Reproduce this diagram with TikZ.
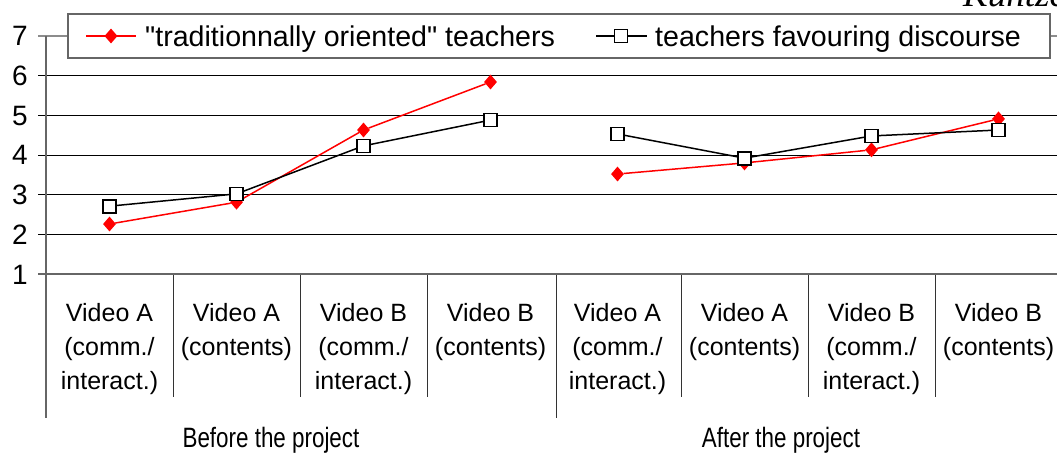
\documentclass[tikz,border=0pt]{standalone}
\usepackage{fontspec}
\setmainfont{Liberation Sans}[Ligatures=TeXOff]
\newfontfamily\narrowfont{Liberation Sans}[FakeStretch=0.8]
\newfontfamily\headfont{Liberation Serif}
\usetikzlibrary{shapes.geometric}

\begin{document}
\begin{tikzpicture}[x=1pt,y=-1pt,
   grid/.style={black,line width=0.9pt},
   axisline/.style={black!60,line width=2pt},
   redmark/.style={diamond,fill=red,inner sep=0pt,minimum width=13pt,minimum height=15pt},
   blackmark/.style={rectangle,draw=black,fill=white,line width=1.7pt,inner sep=0pt,minimum size=13pt},
   redline/.style={red,line width=1.5pt},
   blackline/.style={black,line width=1.5pt},
   catlabel/.style={anchor=north,inner sep=0pt,align=center,font=\fontsize{25}{34}\selectfont},
   ticklabel/.style={anchor=base east,inner sep=0pt,font=\fontsize{28}{34}\selectfont}]
   \useasboundingbox (0,0) rectangle (1057,453);
   % header, cut by the page edge
   \begin{scope}
      \clip (0,0) rectangle (1057,453);
      \node [anchor=base west,inner sep=0pt,font=\headfont\itshape\fontsize{37}{42}\selectfont] (head) at (963,6) {Kuntze};
   \end{scope}
   % grid and axes
   \foreach \v in {2,...,6}
      \draw [grid] (38,{274-39.67*(\v-1)}) -- (1057,{274-39.67*(\v-1)});
   \draw [black!45,line width=1.2pt] (38,36) -- (1057,36);
   \foreach \v in {1,...,7}
      \node [ticklabel] (t_\v) at (28,{284-39.67*(\v-1)}) {\v};
   \foreach \i in {1,2,3,5,6,7}
      \draw [black!80,line width=1pt] ({46+127*\i},274) -- ({46+127*\i},397);
   \draw [black!80,line width=1pt] (556,274) -- (556,418);
   \draw [axisline] (38,274) -- (1057,274);
   \draw [axisline] (46,36) -- (46,418);
   % category labels
   \foreach \lab [count=\i] in {{Video A\\(comm./\\interact.)},{Video A\\(contents)},{Video B\\(comm./\\interact.)},{Video B\\(contents)},
                                {Video A\\(comm./\\interact.)},{Video A\\(contents)},{Video B\\(comm./\\interact.)},{Video B\\(contents)}}
      \node [catlabel] (c_\i) at ({46+127*(\i-0.5)},303) {\lab};
   \node [anchor=base,inner sep=0pt,font=\narrowfont\fontsize{28}{34}\selectfont] (before) at (271,447) {Before the project};
   \node [anchor=base,inner sep=0pt,font=\narrowfont\fontsize{28}{34}\selectfont] (after) at (781,447) {After the project};
   % data
   \foreach \v [count=\i] in {2.26,2.81,4.63,5.84,3.52,3.80,4.13,4.91}
      \node [redmark] (r_\i) at ({46+127*(\i-0.5)},{274-39.67*(\v-1)}) {};
   \draw [redline] (r_1) -- (r_2) -- (r_3) -- (r_4);
   \draw [redline] (r_5) -- (r_6) -- (r_7) -- (r_8);
   \foreach \v [count=\i] in {2.71,3.02,4.23,4.88,4.53,3.92,4.48,4.63}
      \coordinate (p_\i) at ({46+127*(\i-0.5)},{274-39.67*(\v-1)});
   \draw [blackline] (p_1) -- (p_2) -- (p_3) -- (p_4);
   \draw [blackline] (p_5) -- (p_6) -- (p_7) -- (p_8);
   \foreach \i in {1,...,8}
      \node [blackmark] (b_\i) at (p_\i) {};
   % legend
   \draw [black!60,line width=1.3pt,fill=white] (68,14) rectangle (1050,58);
   \coordinate (lr_a) at (86,36);
   \coordinate (lr_b) at (136,36);
   \draw [redline] (lr_a) -- (lr_b);
   \node [redmark] (lr_m) at (111,36) {};
   \node [anchor=base west,inner sep=0pt,font=\fontsize{28.6}{34}\selectfont] (lr_t) at (145,46) {"traditionnally oriented" teachers};
   \coordinate (lb_a) at (596,36);
   \coordinate (lb_b) at (647,36);
   \draw [blackline] (lb_a) -- (lb_b);
   \node [blackmark] (lb_m) at (621,36) {};
   \node [anchor=base west,inner sep=0pt,font=\fontsize{28.6}{34}\selectfont] (lb_t) at (655,46) {teachers favouring discourse};
\end{tikzpicture}
\end{document}
